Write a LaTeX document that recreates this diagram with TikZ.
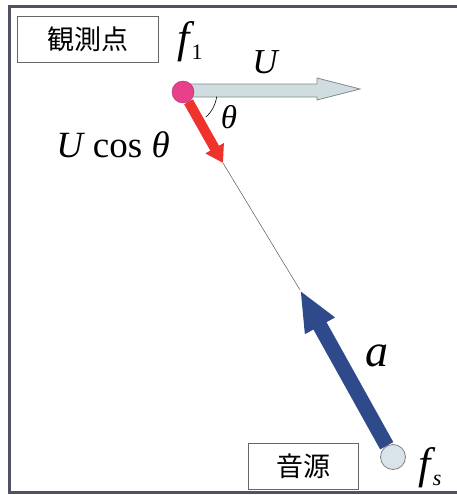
\documentclass[tikz,border=0pt]{standalone}
\usepackage{fontspec}
\setmainfont{Liberation Serif}
\newfontfamily\jpfont{Noto Sans CJK JP}
\usetikzlibrary{arrows.meta}

\definecolor{framegray}{RGB}{78,82,98}
\definecolor{obspink}{RGB}{232,64,138}
\definecolor{ulight}{RGB}{208,221,224}
\definecolor{ugray}{RGB}{130,138,140}
\definecolor{redarrow}{RGB}{240,50,45}
\definecolor{navy}{RGB}{46,74,138}
\definecolor{srclight}{RGB}{216,228,234}

\newcommand{\subsz}[1]{\raisebox{-7pt}{\fontsize{22}{24}\selectfont #1}}

\tikzset{
  labelbox/.style={draw=gray!80!black, line width=0.8pt, inner sep=0pt},
  jptext/.style={font=\jpfont\fontsize{27}{29}\selectfont},
  varlabel/.style={font=\fontsize{35}{37}\selectfont\itshape, inner sep=0pt},
}

\begin{document}
\begin{tikzpicture}[x=1pt,y=-1pt]
\useasboundingbox (0,0) rectangle (457,495);
\fill[white] (0,0) rectangle (457,495);
\draw[framegray,line width=3pt] (9.5,6.5) rectangle (470,492);
% labels in boxes
\node[labelbox, jptext, minimum width=141pt, minimum height=46pt] (obsbox) at (87.5,39) {観測点};
\node[labelbox, jptext, minimum width=110pt, minimum height=46pt] (srcbox) at (303,466) {音源};
% points
\coordinate (utip) at (360,89);
\coordinate (rtip) at (223,163);
\coordinate (btip) at (300,290);
% velocity U
\draw[ugray, fill=ulight, line width=0.8pt] (183,84) -- (317,84) -- (317,78) -- (utip)
  -- (317,100) -- (317,97) -- (183,97) -- cycle;
\node[circle, draw=obspink!70!black, fill=obspink, minimum size=22pt, inner sep=0pt] (obs) at (183,92) {};
\node[circle, draw=gray, fill=srclight, line width=0.8pt, minimum size=25pt, inner sep=0pt] (src) at (393,457) {};
% line of sight
\draw[gray!70!black, line width=0.5pt] (rtip) -- (btip);
\draw[redarrow, line width=10pt, -{Triangle[width=20pt,length=17pt]}] (obs) -- (rtip);
\draw[navy, line width=15pt, -{Triangle[width=31pt,length=41pt]}] (src) -- (btip);
% angle
\draw[black, line width=0.6pt] (obs.center) ++(8:34) arc[start angle=8, end angle=48, radius=34];
% labels
\node[varlabel, font=\fontsize{44}{46}\selectfont\itshape] (flab) at (190,42) {f\kern2pt\subsz{\upshape 1}};
\node[varlabel] (ulab) at (265,62) {U};
\node[varlabel, font=\fontsize{33}{35}\selectfont\itshape] (thlab) at (229,117) {θ};
\node[varlabel, font=\fontsize{37}{39}\selectfont\itshape] (uclab) at (113,145) {U\hspace{10pt}\upshape cos \itshape θ};
\node[varlabel, font=\fontsize{46}{48}\selectfont\itshape] (alab) at (377,356) {a};
\node[varlabel, font=\fontsize{44}{46}\selectfont\itshape] (fslab) at (430,468) {f\kern2pt\subsz{s}};
\end{tikzpicture}
\end{document}
